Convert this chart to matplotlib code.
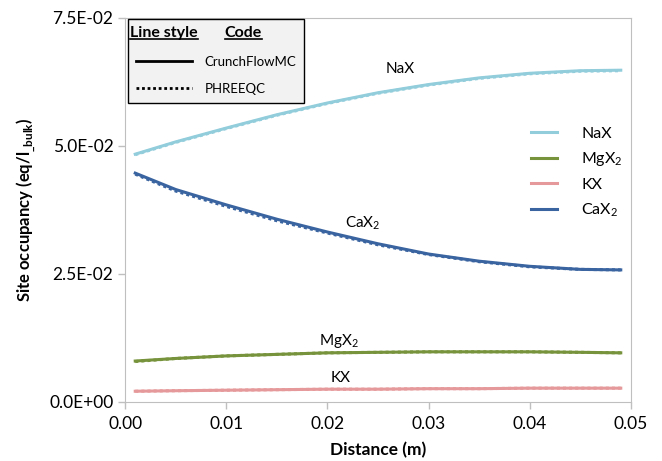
import matplotlib
matplotlib.use("Agg")
import matplotlib.pyplot as plt
from matplotlib.ticker import FuncFormatter, MultipleLocator
from matplotlib.lines import Line2D

plt.rcParams['font.family'] = ['Lato', 'DejaVu Sans']
plt.rcParams['mathtext.fontset'] = 'custom'
plt.rcParams['mathtext.rm'] = 'Lato'
plt.rcParams['mathtext.bf'] = 'Lato:bold'

# data
distance = [0.001, 0.005, 0.01, 0.015, 0.02, 0.025, 0.03, 0.035, 0.04, 0.045, 0.049]

nax_cf = [0.0484, 0.0508, 0.0535, 0.0561, 0.0584, 0.0604, 0.0620, 0.0633, 0.0642, 0.0647, 0.0648]
mgx2_cf = [0.0080, 0.0085, 0.0090, 0.0093, 0.0096, 0.0097, 0.0098, 0.0098, 0.0098, 0.0097, 0.0096]
kx_cf = [0.0021, 0.0022, 0.0023, 0.0024, 0.0025, 0.0025, 0.0026, 0.0026, 0.0027, 0.0027, 0.0027]
cax2_cf = [0.0447, 0.0415, 0.0385, 0.0357, 0.0332, 0.0309, 0.0289, 0.0275, 0.0265, 0.0259, 0.0258]

nax_ph = [0.0483, 0.0507, 0.0534, 0.0560, 0.0583, 0.0603, 0.0619, 0.0632, 0.0641, 0.0646, 0.0647]
mgx2_ph = [0.0079, 0.0085, 0.0090, 0.0093, 0.0096, 0.0097, 0.0098, 0.0098, 0.0098, 0.0097, 0.0096]
kx_ph = [0.0021, 0.0022, 0.0023, 0.0024, 0.0025, 0.0025, 0.0026, 0.0026, 0.0027, 0.0027, 0.0027]
cax2_ph = [0.0445, 0.0412, 0.0382, 0.0354, 0.0330, 0.0307, 0.0288, 0.0274, 0.0264, 0.0259, 0.0258]

species = ['NaX', 'MgX$_2$', 'KX', 'CaX$_2$']
colors = ['#92cddc', '#77933c', '#e6999a', '#3a64a0']

fig = plt.figure(figsize=(6.62, 4.61), dpi=100)
ax = fig.add_axes([0.189, 0.128, 0.764, 0.833])

cf_series = [nax_cf, mgx2_cf, kx_cf, cax2_cf]
ph_series = [nax_ph, mgx2_ph, kx_ph, cax2_ph]
for name, col, cf, ph in zip(species, colors, cf_series, ph_series):
    ax.plot(distance, cf, color=col, lw=2.2, label=name)
    ax.plot(distance, ph, color=col, lw=2.2, ls=(0, (1, 1)))

ax.set_xlim(0, 0.05)
ax.set_ylim(0, 0.075)
ax.xaxis.set_major_locator(MultipleLocator(0.01))
ax.yaxis.set_major_locator(MultipleLocator(0.025))
ax.xaxis.set_major_formatter(FuncFormatter(lambda v, p: f"{v:.2f}"))
ax.yaxis.set_major_formatter(FuncFormatter(lambda v, p: f"{v:.1E}"))
ax.tick_params(labelsize=12.5, color='#bfbfbf', length=5, width=1)
ax.tick_params(axis='x', pad=5)
for s in ax.spines.values():
    s.set_color('#bfbfbf')

ax.set_xlabel('Distance (m)', fontsize=12.5, fontweight='bold', labelpad=7)
ax.set_ylabel(r'Site occupancy (eq/l$_{\mathbf{\_bulk}}$)', fontsize=12,
              fontweight='bold', labelpad=8)

# curve labels
ax.text(0.0272, 0.0650, 'NaX', fontsize=11, ha='center', va='center')
ax.text(0.0235, 0.0350, 'CaX$_2$', fontsize=11, ha='center', va='center')
ax.text(0.0211, 0.0120, 'MgX$_2$', fontsize=11, ha='center', va='center')
ax.text(0.0213, 0.0047, 'KX', fontsize=11, ha='center', va='center')

# species legend
leg = ax.legend(loc='upper left', bbox_to_anchor=(0.774, 0.755), frameon=False,
                fontsize=11.5, handlelength=1.65, handletextpad=1.5, labelspacing=0.6)
ax.add_artist(leg)

# line style / code legend
handles = [Line2D([], [], color='black', lw=2),
           Line2D([], [], color='black', lw=2, ls=(0, (1, 1)))]
leg2 = ax.legend(handles, ['CrunchFlowMC', 'PHREEQC'], loc='upper left',
                 bbox_to_anchor=(-0.007, 1.015), fontsize=9.5, handlelength=4.2,
                 handletextpad=1.0, title=' ', title_fontsize=11, fancybox=False,
                 framealpha=1, facecolor='#f2f2f2', edgecolor='black',
                 borderpad=0.6, labelspacing=1.15)
leg2.set_zorder(5)

# underlined headers
h1 = ax.text(0.010, 0.961, 'Line style', transform=ax.transAxes, fontsize=11.5,
             fontweight='bold', va='center', zorder=6)
h2 = ax.text(0.197, 0.961, 'Code', transform=ax.transAxes, fontsize=11.5,
             fontweight='bold', va='center', zorder=6)
fig.canvas.draw()
inv = fig.transFigure.inverted()
for h in (h1, h2):
    bb = h.get_window_extent()
    (x0, y0), (x1, _) = inv.transform([(bb.x0, bb.y0 + 1), (bb.x1, bb.y0 + 1)])
    fig.add_artist(Line2D([x0, x1], [y0, y0], color='black', lw=1.2, zorder=7))

fig.savefig('out.png', dpi=100)
